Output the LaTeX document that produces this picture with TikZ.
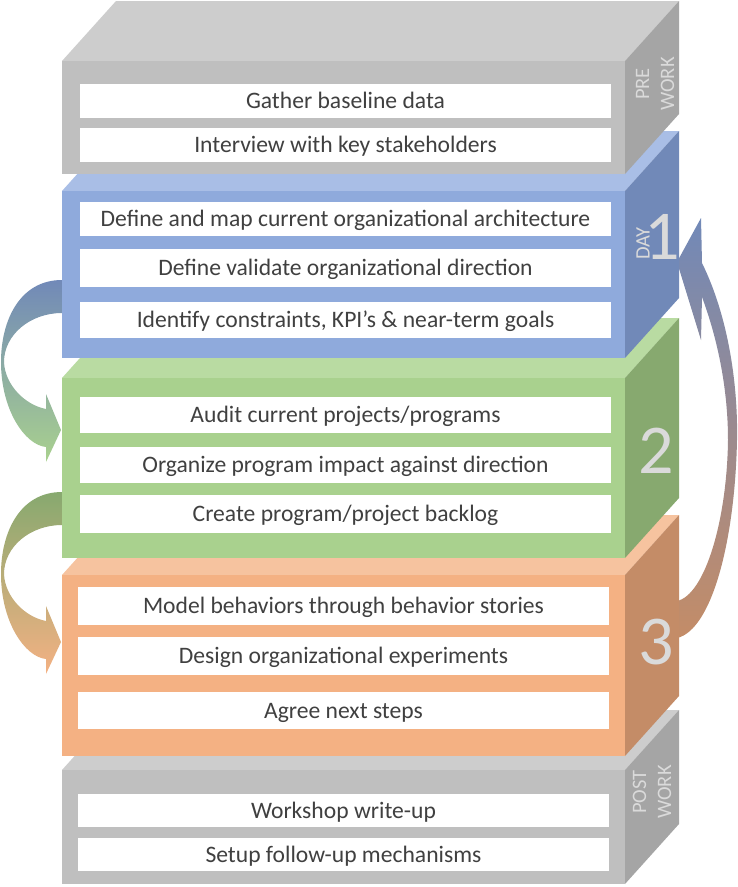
\documentclass[tikz,border=0pt]{standalone}
\usepackage{fontspec}
\setmainfont{Carlito}
\usetikzlibrary{positioning}

\definecolor{txt}{HTML}{404040}
\definecolor{lbl}{HTML}{DADADA}
\definecolor{greyT}{HTML}{CDCDCD}
\definecolor{greyF}{HTML}{BFBFBF}
\definecolor{greyS}{HTML}{A5A5A5}
\definecolor{blueT}{HTML}{A9BEE6}
\definecolor{blueF}{HTML}{8FAADC}
\definecolor{blueS}{HTML}{7189B8}
\definecolor{greenT}{HTML}{B9DBA2}
\definecolor{greenF}{HTML}{A9D18E}
\definecolor{greenS}{HTML}{87A96F}
\definecolor{orangeT}{HTML}{F6C39F}
\definecolor{orangeF}{HTML}{F4B183}
\definecolor{orangeS}{HTML}{C48C67}

% one block: top y, bottom y, top/front/side colours
\newcommand{\blokk}[5]{%
  \fill[#3] (62,#1) -- ++(54,-60) -- (679,{#1-60}) -- (625,#1) -- cycle;
  \fill[#4] (62,#1) rectangle (625,#2);
  \fill[#5] (625,#1) -- ++(54,-60) -- ++(0,{#2-#1}) -- (625,#2) -- cycle;
}

\begin{document}
\begin{tikzpicture}[
      x=1pt, y=-1pt,
      feld/.style={rectangle, fill=white, text=txt,
        minimum width=531pt, minimum height=36pt, inner sep=0pt,
        text height=17pt, text depth=1.2pt,
        font=\fontsize{23.6}{26}\selectfont},
      seite/.style={rotate=90, text=lbl, align=center, inner sep=0pt,
        font=\fontsize{20.5}{25}\selectfont},
      zahl/.style={text=lbl, inner sep=0pt,
        font=\fontsize{70}{70}\selectfont}
    ]
    \fill[white] (0,0) rectangle (737,887);
    \useasboundingbox (0,0) rectangle (737,887);

    % arrows
    \shade[top color=blueS, bottom color=greenF]
      (62,280) .. controls (20,280) and (1,320) .. (1,362)
      .. controls (1,410) and (25,445) .. (46,447)
      -- (46,462) -- (61,430) -- (46,394) -- (46,409)
      .. controls (25,405) and (5,385) .. (4,362)
      .. controls (4,335) and (30,313) .. (62,313) -- cycle;
    \shade[top color=greenS, bottom color=orangeF]
      (62,492) .. controls (20,492) and (1,532) .. (1,574)
      .. controls (1,622) and (25,657) .. (46,659)
      -- (46,674) -- (61,642) -- (46,606) -- (46,621)
      .. controls (25,617) and (5,597) .. (4,574)
      .. controls (4,547) and (30,525) .. (62,525) -- cycle;
    \shade[top color=blueS, bottom color=orangeS]
      (677,262) -- (701,218) -- (702,263)
      .. controls (730,320) and (738,390) .. (737,440)
      .. controls (735,540) and (712,630) .. (677,638)
      -- (677,601)
      .. controls (705,595) and (727,520) .. (728,440)
      .. controls (728,390) and (718,340) .. (702,297)
      -- (701,340) -- cycle;

    % blocks, lowest first
    \blokk{770}{884}{greyT}{greyF}{greyS}
    \blokk{575}{756}{orangeT}{orangeF}{orangeS}
    \blokk{378}{558}{greenT}{greenF}{greenS}
    \blokk{191}{358}{blueT}{blueF}{blueS}
    \blokk{61}{174}{greyT}{greyF}{greyS}

    % pre work
    \path (345.5,101) node(pre1) [feld, minimum height=34pt] {Gather baseline data}
    (345.5,145) node(pre2) [feld, minimum height=34pt] {Interview with key stakeholders};
    \node(preL) [seite] at (655,84) {PRE\\WORK};

    % day 1
    \path (345.5,219) node(day1a) [feld, minimum height=34pt] {Define and map current organizational architecture}
    (345.5,268) node(day1b) [feld, minimum height=38pt] {Define validate organizational direction}
    (345.5,320) node(day1c) [feld] {Identify constraints, KPI’s \& near-term goals};
    \node(day1L) [seite] at (643,243.5) {DAY};
    \node(day1N) [zahl] at (662,237) {1};

    % day 2
    \path (345.5,415) node(day2a) [feld] {Audit current projects/programs}
    (345.5,465) node(day2b) [feld] {Organize program impact against direction}
    (345.5,514) node(day2c) [feld, minimum height=38pt] {Create program/project backlog};
    \node(day2N) [zahl] at (656,450.5) {2};

    % day 3
    \path (343.5,606) node(day3a) [feld, minimum height=38pt] {Model behaviors through behavior stories}
    (343.5,656) node(day3b) [feld, minimum height=38pt] {Design organizational experiments}
    (343.5,710.5) node(day3c) [feld, minimum height=37pt] {Agree next steps};
    \node(day3N) [zahl] at (656,642.5) {3};

    % post work
    \path (343.5,810.5) node(post1) [feld, minimum height=33pt] {Workshop write-up}
    (343.5,854.5) node(post2) [feld, minimum height=33pt] {Setup follow-up mechanisms};
    \node(postL) [seite] at (652,792) {POST\\WORK};
  \end{tikzpicture}
\end{document}
